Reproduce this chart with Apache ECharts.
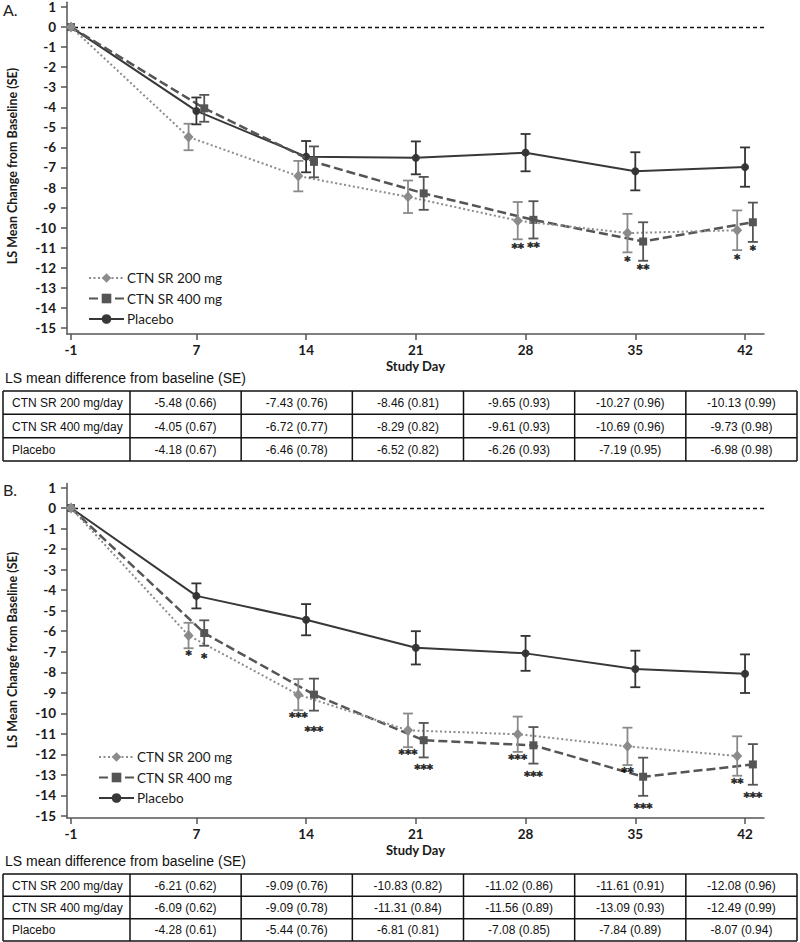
<!DOCTYPE html>
<html>
<head>
<meta charset="utf-8">
<script src="https://cdn.jsdelivr.net/npm/echarts@6/dist/echarts.min.js"></script>
<style>
  html, body { margin: 0; padding: 0; background: #fff; }
  #chart { width: 800px; height: 942px; }
</style>
</head>
<body>
<div id="chart"></div>
<script>
// ---------------- DATA ----------------
const seriesNames = ['CTN SR 200 mg', 'CTN SR 400 mg', 'Placebo'];
const rowLabels = ['CTN SR 200 mg/day', 'CTN SR 400 mg/day', 'Placebo'];
const baselineDay = -1;
const baselineValue = 0;
const days = [7, 14, 21, 28, 35, 42];
const xTickValues = [-1, 7, 14, 21, 28, 35, 42];
const yTickValues = [1, 0, -1, -2, -3, -4, -5, -6, -7, -8, -9, -10, -11, -12, -13, -14, -15];

// Panel A
const a200Mean = [-5.48, -7.43, -8.46, -9.65, -10.27, -10.13];
const a200SE   = [0.66, 0.76, 0.81, 0.93, 0.96, 0.99];
const a400Mean = [-4.05, -6.72, -8.29, -9.61, -10.69, -9.73];
const a400SE   = [0.67, 0.77, 0.82, 0.93, 0.96, 0.98];
const aPboMean = [-4.18, -6.46, -6.52, -6.26, -7.19, -6.98];
const aPboSE   = [0.67, 0.78, 0.82, 0.93, 0.95, 0.98];
const aStars200 = ['', '', '', '**', '*', '*'];
const aStars400 = ['', '', '', '**', '**', '*'];

// Panel B
const b200Mean = [-6.21, -9.09, -10.83, -11.02, -11.61, -12.08];
const b200SE   = [0.62, 0.76, 0.82, 0.86, 0.91, 0.96];
const b400Mean = [-6.09, -9.09, -11.31, -11.56, -13.09, -12.49];
const b400SE   = [0.62, 0.78, 0.84, 0.89, 0.93, 0.99];
const bPboMean = [-4.28, -5.44, -6.81, -7.08, -7.84, -8.07];
const bPboSE   = [0.61, 0.76, 0.81, 0.85, 0.89, 0.94];
const bStars200 = ['*', '***', '***', '***', '**', '**'];
const bStars400 = ['*', '***', '***', '***', '***', '***'];

// ---------------- STYLE / LAYOUT ----------------
const FONT = 'Lato, "Open Sans", sans-serif';
const TFONT = '"Liberation Sans", Arial, sans-serif';
const SFONT = '"DejaVu Sans", sans-serif';
const STAR_SIZE = 12;
const X_MIN = -1.255, X_MAX = 43.21;
const dodge = [-0.5, 0.5, 0];   // horizontal offset of 200, 400, placebo
const styles = [
  { color: '#8c8c8c', barColor: '#8a8a8a', type: [2, 2.5], width: 2, symbol: 'diamond', size: [10, 11] },
  { color: '#555555', barColor: '#555555', type: [9, 4], width: 2.5, symbol: 'rect', size: 8 },
  { color: '#383838', barColor: '#333333', type: 'solid', width: 2, symbol: 'circle', size: 8 }
];

const panels = [
  { means: [a200Mean, a400Mean, aPboMean], ses: [a200SE, a400SE, aPboSE], stars: [aStars200, aStars400],
    grid: { left: 67, top: 0, width: 697, height: 334 }, yMin: -15.3, yMax: 1.2376,
    legendTop: 266, legendLeft: 83, starDist: [3, 2] },
  { means: [b200Mean, b400Mean, bPboMean], ses: [b200SE, b400SE, bPboSE], stars: [bStars200, bStars400],
    grid: { left: 67, top: 483.4, width: 697, height: 334.6 }, yMin: -15.1, yMax: 1.2,
    legendTop: 745, legendLeft: 93, starDist: [1, 6] }
];

const grids = [], xAxes = [], yAxes = [], series = [], legends = [];

panels.forEach((p, pi) => {
  grids.push(Object.assign({ containLabel: false }, p.grid));
  xAxes.push({
    type: 'value', gridIndex: pi, min: X_MIN, max: X_MAX,
    name: 'Study Day', nameLocation: 'middle', nameGap: 25,
    nameTextStyle: { fontFamily: FONT, fontSize: 13, fontWeight: 'bold', color: '#1a1a1a' },
    axisLine: { show: true, onZero: false, lineStyle: { color: '#555', width: 1.5 } },
    axisTick: { show: true, length: 6, customValues: xTickValues, lineStyle: { color: '#555', width: 1.5 } },
    axisLabel: { customValues: xTickValues, margin: 9, fontFamily: FONT, fontSize: 13.5, fontWeight: 'bold', color: '#1a1a1a' },
    splitLine: { show: false }
  });
  yAxes.push({
    type: 'value', gridIndex: pi, min: p.yMin, max: p.yMax,
    axisLine: { show: true, onZero: false, lineStyle: { color: '#555', width: 1.5 } },
    axisTick: { show: true, length: 6, customValues: yTickValues, lineStyle: { color: '#555', width: 1.5 } },
    axisLabel: { customValues: yTickValues, margin: 11, fontFamily: FONT, fontSize: 13.5, fontWeight: 'bold', color: '#1a1a1a' },
    splitLine: { show: false }
  });

  p.means.forEach((m, si) => {
    const st = styles[si];
    const data = [[baselineDay, baselineValue]].concat(days.map((d, i) => [d + dodge[si], m[i]]));
    const s = {
      type: 'line', name: seriesNames[si], xAxisIndex: pi, yAxisIndex: pi,
      data: data, symbol: st.symbol, symbolSize: st.size, showSymbol: true,
      lineStyle: { color: st.color, width: st.width, type: st.type },
      itemStyle: { color: st.color },
      z: 4 + (2 - si), animation: false, silent: true
    };
    if (si === 2) {
      s.markLine = {
        silent: true, symbol: 'none', label: { show: false },
        lineStyle: { type: [4, 3], color: '#111', width: 1.3 },
        data: [{ yAxis: 0 }], animation: false
      };
    }
    series.push(s);

    // error bars (±SE)
    series.push({
      type: 'custom', name: seriesNames[si] + ' SE', xAxisIndex: pi, yAxisIndex: pi,
      data: days.map((d, i) => [d + dodge[si], m[i] - p.ses[si][i], m[i] + p.ses[si][i]]),
      encode: { x: 0, y: [1, 2] }, z: 8, animation: false, silent: true,
      renderItem: (params, api) => {
        const x = api.value(0);
        const lo = api.coord([x, api.value(1)]);
        const hi = api.coord([x, api.value(2)]);
        const w = 5;
        const ls = { stroke: st.barColor, lineWidth: 1.8 };
        return {
          type: 'group', children: [
            { type: 'line', shape: { x1: lo[0], y1: lo[1], x2: hi[0], y2: hi[1] }, style: ls },
            { type: 'line', shape: { x1: lo[0] - w, y1: lo[1], x2: lo[0] + w, y2: lo[1] }, style: ls },
            { type: 'line', shape: { x1: hi[0] - w, y1: hi[1], x2: hi[0] + w, y2: hi[1] }, style: ls }
          ]
        };
      }
    });
  });

  // significance asterisks under the lower error bar end; the 400 mg label is
  // pushed down when it would collide with the 200 mg label of the same day
  const ppuY = p.grid.height / (p.yMax - p.yMin);
  const ppuX = p.grid.width / (X_MAX - X_MIN);
  const boxH = STAR_SIZE * 1.17;
  const dist = days.map((d, i) => {
    const d200 = p.starDist[0];
    let d400 = p.starDist[1];
    const s2 = p.stars[0][i], s4 = p.stars[1][i];
    if (s2 && s4) {
      const y2 = (p.yMax - (p.means[0][i] - p.ses[0][i])) * ppuY + d200;
      const y4 = (p.yMax - (p.means[1][i] - p.ses[1][i])) * ppuY + d400;
      const halfW = (s2.length + s4.length) * STAR_SIZE * 0.5 / 2;
      const sep = (dodge[1] - dodge[0]) * ppuX;
      if (halfW > sep && Math.abs(y4 - y2) < boxH) d400 += (y2 + boxH) - y4;
    }
    return [d200, d400];
  });
  p.stars.forEach((arr, si) => {
    series.push({
      type: 'scatter', name: seriesNames[si] + ' sig', xAxisIndex: pi, yAxisIndex: pi,
      symbolSize: 0.1, itemStyle: { color: 'rgba(0,0,0,0)' }, z: 9, animation: false, silent: true,
      data: days.map((d, i) => ({
        value: [d + dodge[si], p.means[si][i] - p.ses[si][i]], name: arr[i],
        label: { distance: dist[i][si] }
      })).filter(o => o.name),
      label: {
        show: true, position: 'bottom', formatter: '{b}',
        fontFamily: SFONT, fontSize: STAR_SIZE, fontWeight: 'bold', color: '#000',
        textBorderColor: '#000', textBorderWidth: 0.5
      }
    });
  });

  legends.push({
    data: seriesNames, orient: 'vertical', left: p.legendLeft, top: p.legendTop,
    itemWidth: 35, itemHeight: 12, itemGap: 6.5, selectedMode: false,
    textStyle: { fontFamily: FONT, fontSize: 13.5, color: '#1a1a1a', padding: [0, 0, 0, -2] }
  });
});

// ---------------- TABLES + TEXT (graphic) ----------------
const graphic = [];
function txt(x, y, text, opts) {
  graphic.push(Object.assign({
    type: 'text', x: x, y: y, silent: true,
    style: Object.assign({ text: text, fill: '#111', font: '12px ' + TFONT, textAlign: 'left', textVerticalAlign: 'middle' }, opts || {})
  }));
}
function hline(x1, x2, y) {
  graphic.push({ type: 'line', silent: true, shape: { x1: x1, y1: y, x2: x2, y2: y }, style: { stroke: '#111', lineWidth: 1.5 } });
}
function vline(x, y1, y2) {
  graphic.push({ type: 'line', silent: true, shape: { x1: x, y1: y1, x2: x, y2: y2 }, style: { stroke: '#111', lineWidth: 1.5 } });
}

// panel letters and y-axis titles
txt(3, 9, 'A.', { font: '16px ' + FONT, fill: '#222' });
txt(3, 489, 'B.', { font: '16px ' + FONT, fill: '#222' });
graphic.push({ type: 'text', x: 12, y: 166, rotation: Math.PI / 2, silent: true,
  style: { text: 'LS Mean Change from Baseline (SE)', font: 'bold 12.5px ' + FONT, fill: '#1a1a1a', textAlign: 'center', textVerticalAlign: 'middle' } });
graphic.push({ type: 'text', x: 12, y: 650, rotation: Math.PI / 2, silent: true,
  style: { text: 'LS Mean Change from Baseline (SE)', font: 'bold 12.5px ' + FONT, fill: '#1a1a1a', textAlign: 'center', textVerticalAlign: 'middle' } });

const tableLayouts = [
  { titleY: 378, top: 391, bottom: 461 },
  { titleY: 861, top: 874, bottom: 941 }
];
const tX0 = 3, tX1 = 797, tCol1 = 130;
panels.forEach((p, pi) => {
  const L = tableLayouts[pi];
  txt(5, L.titleY, 'LS mean difference from baseline (SE)', { font: '14px ' + TFONT, fill: '#111' });
  const rh = (L.bottom - L.top) / 3;
  const cw = (tX1 - tCol1) / days.length;
  for (let r = 0; r <= 3; r++) hline(tX0, tX1, L.top + r * rh);
  vline(tX0, L.top, L.bottom);
  vline(tCol1, L.top, L.bottom);
  for (let c = 1; c <= days.length; c++) vline(tCol1 + c * cw, L.top, L.bottom);
  rowLabels.forEach((lab, r) => {
    const cy = L.top + (r + 0.5) * rh + 0.5;
    txt(12, cy, lab, { font: '12px ' + TFONT });
    days.forEach((d, c) => {
      const v = p.means[r][c].toFixed(2) + ' (' + p.ses[r][c].toFixed(2) + ')';
      txt(tCol1 + (c + 0.5) * cw, cy, v, { font: '12px ' + TFONT, textAlign: 'center' });
    });
  });
});

const chart = echarts.init(document.getElementById('chart'), null, { renderer: 'svg', width: 800, height: 942 });
chart.setOption({
  animation: false,
  backgroundColor: '#fff',
  grid: grids, xAxis: xAxes, yAxis: yAxes, legend: legends,
  series: series, graphic: graphic
});
</script>
</body>
</html>
